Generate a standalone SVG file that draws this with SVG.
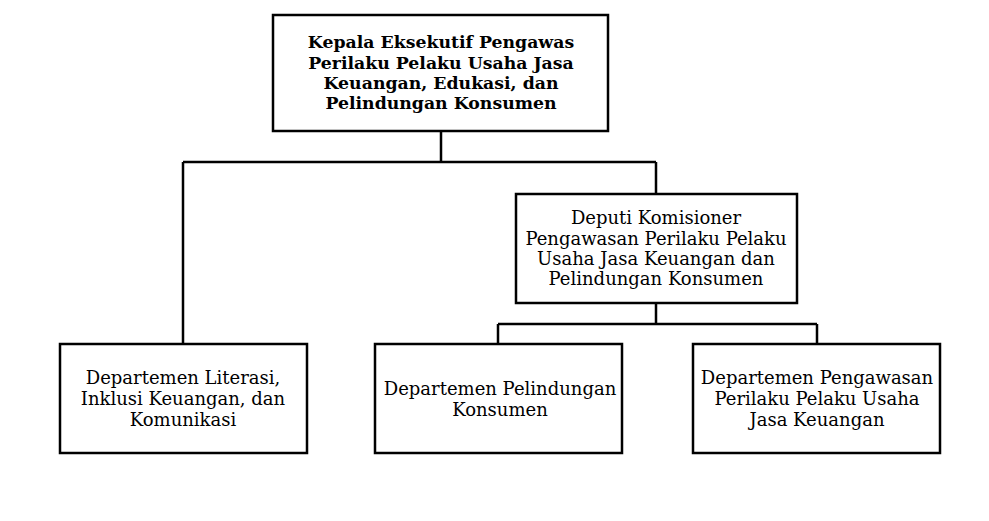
<svg xmlns="http://www.w3.org/2000/svg" width="989" height="521" viewBox="0 0 989 521">
<style>
.box{fill:#fff;stroke:#000;stroke-width:2.5}
.ln{fill:none;stroke:#000;stroke-width:2.5}
text{font-family:"DejaVu Serif","Liberation Serif",serif;font-size:18px;fill:#000;text-anchor:middle}
.b{font-weight:bold;font-size:17.3px}
</style>
<rect width="989" height="521" fill="#fff"/>
<g id="connectors">
<path class="ln" d="M441,131 V162 M183,162 H656 M183,162 V344 M656,162 V194"/>
<path class="ln" d="M656,303 V324 M498,324 H817 M498,324 V344 M817,324 V344"/>
</g>
<g id="kepala">
<rect class="box" x="273" y="15" width="335" height="116"/>
<text class="b" x="441" y="48">Kepala Eksekutif Pengawas</text>
<text class="b" x="441" y="69">Perilaku Pelaku Usaha Jasa</text>
<text class="b" x="441" y="89">Keuangan, Edukasi, dan</text>
<text class="b" x="441" y="109">Pelindungan Konsumen</text>
</g>
<g id="deputi">
<rect class="box" x="516" y="194" width="281" height="109"/>
<text x="656" y="224">Deputi Komisioner</text>
<text x="656" y="245">Pengawasan Perilaku Pelaku</text>
<text x="656" y="265">Usaha Jasa Keuangan dan</text>
<text x="656" y="285">Pelindungan Konsumen</text>
</g>
<g id="dept-literasi">
<rect class="box" x="60" y="344" width="247" height="109"/>
<text x="183" y="384">Departemen Literasi,</text>
<text x="183" y="405">Inklusi Keuangan, dan</text>
<text x="183" y="426">Komunikasi</text>
</g>
<g id="dept-pelindungan">
<rect class="box" x="375" y="344" width="247" height="109"/>
<text x="500" y="395">Departemen Pelindungan</text>
<text x="500" y="416">Konsumen</text>
</g>
<g id="dept-pengawasan">
<rect class="box" x="693" y="344" width="247" height="109"/>
<text x="817" y="384">Departemen Pengawasan</text>
<text x="817" y="405">Perilaku Pelaku Usaha</text>
<text x="817" y="426">Jasa Keuangan</text>
</g>
</svg>
